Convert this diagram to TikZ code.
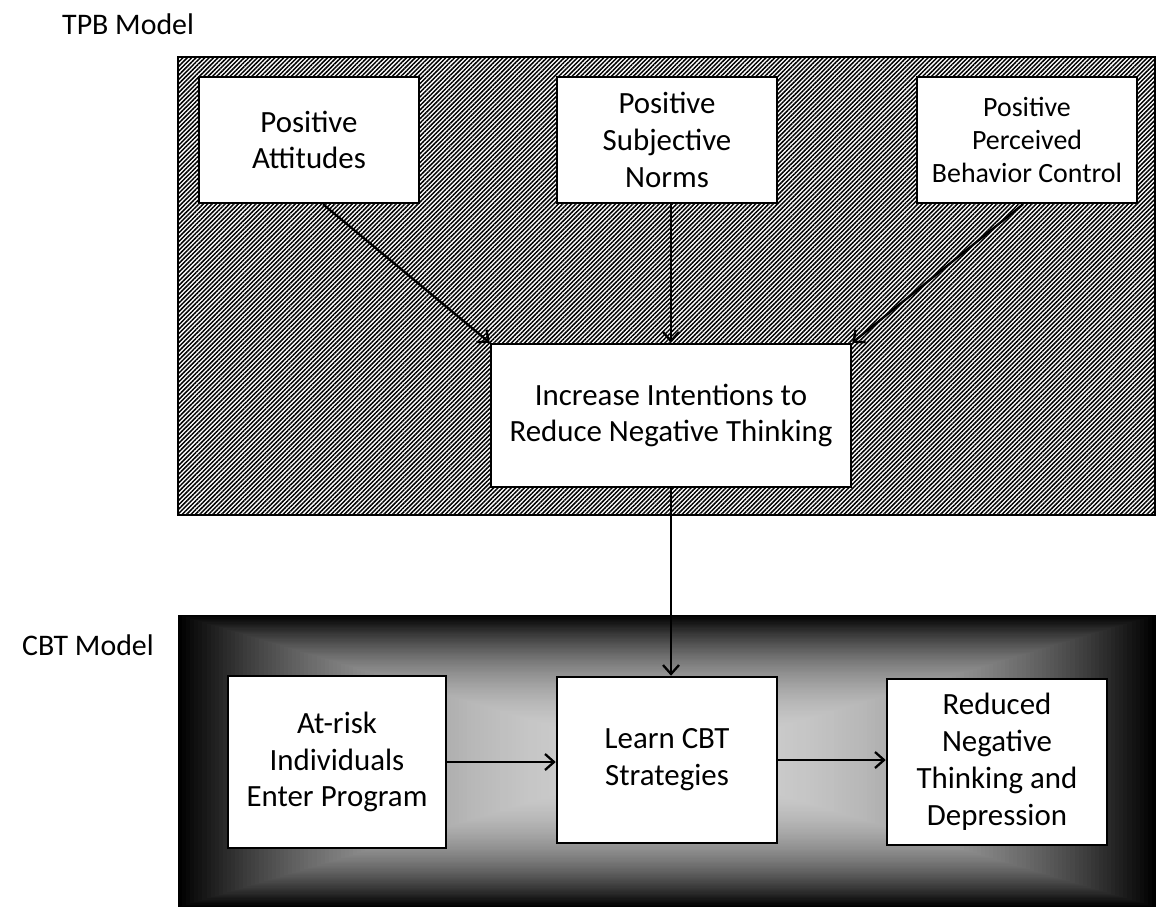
\documentclass[tikz,border=0pt]{standalone}
\usepackage{fontspec}
\setmainfont{Carlito}
\usetikzlibrary{patterns.meta,arrows.meta}
\tikzset{
  box/.style={draw=black, fill=white, line width=2.5bp, minimum width=220bp,
    minimum height=126bp, align=center, inner sep=2bp,
    font=\fontsize{31}{37}\selectfont},
  conn/.style={line width=2.3bp, -{Straight Barb[length=9bp,width=16bp,line width=2.3bp]}},
  lbl/.style={anchor=west, inner sep=0pt, font=\fontsize{30}{36}\selectfont}
}
\begin{document}
\begin{tikzpicture}[x=1bp,y=-1bp]
\useasboundingbox[fill=white] (0,0) rectangle (1156,907);
% TPB region
\draw[line width=2.5bp, pattern={Lines[angle=45,distance=3.1bp,line width=1.5bp]}]
  (178,57) rectangle (1155.5,515);
% CBT region: rectangular path gradient, black edges to light grey centre
\begin{scope}
  \clip (178,615) rectangle (1156,907);
  \foreach \i in {0,...,119}{
    \pgfmathsetmacro\s{1-\i/120}
    \pgfmathsetmacro\k{100-82*(1-\s^2.3)}
    \fill[black!\k] ({667-489*\s},{761-146*\s}) rectangle ({667+489*\s},{761+146*\s});
  }
\end{scope}
\node[lbl] (tpb) at (62,24) {TPB Model};
\node[lbl] (cbt) at (22,645) {CBT Model};
% nodes
\node[box] (att) at (309,140) {Positive\\Attitudes};
\node[box] (norms) at (667,140) {Positive\\Subjective\\Norms};
\node[box, font=\fontsize{28}{33}\selectfont] (pbc) at (1027,140) {Positive\\Perceived\\Behavior Control};
\node[box, minimum width=360bp, minimum height=143bp, font=\fontsize{31}{36}\selectfont] (inc) at (671,415.5) {Increase Intentions to\\Reduce Negative Thinking};
\node[box, minimum width=218bp, minimum height=172bp] (atrisk) at (337,762) {At-risk\\Individuals\\Enter Program};
\node[box, minimum height=166bp] (learn) at (667,760) {Learn CBT\\Strategies};
\node[box, minimum height=166bp] (reduced) at (997,762) {Reduced\\Negative\\Thinking and\\Depression};
% connectors
\draw[conn] ([xshift=14bp]att.south) -- (inc.north west);
\draw[conn] (inc.north |- norms.south) -- (inc.north);
\draw[conn] ([xshift=-4bp]pbc.south) -- (inc.north east);
\draw[conn] (inc.south) -- (inc.south |- learn.north);
\draw[conn] (atrisk.east) -- (atrisk.east -| learn.west);
\draw[conn] (learn.east) -- (learn.east -| reduced.west);
\end{tikzpicture}
\end{document}
